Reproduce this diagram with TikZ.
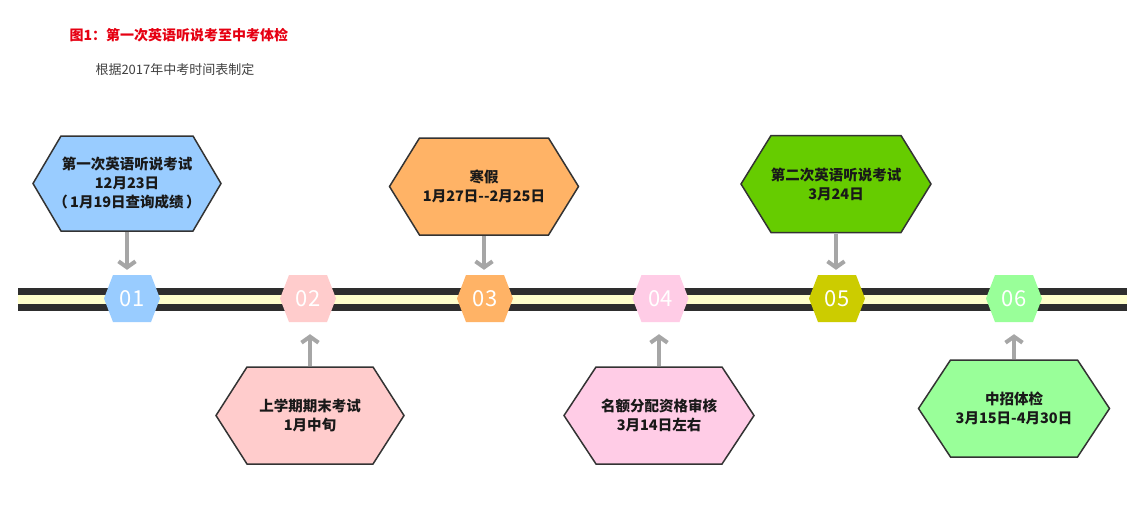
\documentclass[tikz,border=0pt]{standalone}
\usepackage{fontspec}
\setmainfont{Noto Sans CJK SC}
\usetikzlibrary{arrows.meta,calc}
\definecolor{titlered}{HTML}{E60012}
\definecolor{subgray}{HTML}{404040}
\definecolor{banddark}{HTML}{2E2E2E}
\definecolor{bandcream}{HTML}{FFFFCC}
\definecolor{outline}{HTML}{333333}
\definecolor{arrowgray}{HTML}{A6A6A6}
\definecolor{cA}{HTML}{99CCFF}
\definecolor{cB}{HTML}{FFCCCC}
\definecolor{cC}{HTML}{FFB366}
\definecolor{cD}{HTML}{FFCCE6}
\definecolor{cE}{HTML}{66CC00}
\definecolor{cEs}{HTML}{CCCC00}
\definecolor{cF}{HTML}{99FF99}
% name, center, half width, half height, point depth, shape style, label style, text
\newcommand\hexnode[8]{%
  \path[#6] ($(#2)+(-#3,0)$) -- ($(#2)+(-#3+#5,-#4)$) -- ($(#2)+(#3-#5,-#4)$)
    -- ($(#2)+(#3,0)$) -- ($(#2)+(#3-#5,#4)$) -- ($(#2)+(-#3+#5,#4)$) -- cycle;
  \node[inner sep=0pt, minimum width=2*#3, minimum height=2*#4, #7] (#1) at (#2) {#8};
}
\begin{document}
\begin{tikzpicture}[x=1pt,y=-1pt,
  bigbox/.style={fill=#1, draw=outline, line width=1.5pt, line join=miter},
  smallhex/.style={fill=#1},
  biglabel/.style={align=center, text=black!90, font=\bfseries\fontsize{14.5}{19}\selectfont},
  numlabel/.style={text=white, font=\fontsize{22}{24}\selectfont},
  arr/.style={draw=arrowgray, line width=4pt, -{Straight Barb[length=6pt,width=17pt]}},
]
\useasboundingbox (0,0) rectangle (1147,504);
\fill[white] (0,0) rectangle (1147,504);

\node[anchor=west, text=titlered, font=\bfseries\fontsize{14}{16}\selectfont] (title) at (66,35) {图1：第一次英语听说考至中考体检};
\node[anchor=west, text=subgray, font=\fontsize{13}{16}\selectfont] (sub) at (92,70) {根据2017年中考时间表制定};

% timeline band
\fill[banddark] (18,288) rectangle (1127,311);
\fill[bandcream] (18,294.5) rectangle (1127,303.5);

% small hexagons
\hexnode{h1}{132,298.5}{28}{23.5}{9}{smallhex=cA}{numlabel}{01}
\hexnode{h2}{308,298.5}{28}{23.5}{9}{smallhex=cB}{numlabel}{02}
\hexnode{h3}{485,298.5}{28}{23.5}{9}{smallhex=cC}{numlabel}{03}
\hexnode{h4}{660.5,298.5}{28}{23.5}{9}{smallhex=cD}{numlabel}{04}
\hexnode{h5}{837,298.5}{28}{23.5}{9}{smallhex=cEs}{numlabel}{05}
\hexnode{h6}{1014,298.5}{28}{23.5}{9}{smallhex=cF}{numlabel}{06}

% big boxes
\hexnode{b1}{127,183.5}{94}{47.5}{28}{bigbox=cA}{biglabel}{第一次英语听说考试\\12月23日\\（\,1月19日查询成绩\,）}
\hexnode{b3}{484,186.5}{94.5}{48.5}{30}{bigbox=cC}{biglabel}{寒假\\1月27日-{}-2月25日}
\hexnode{b5}{836,184}{95}{48.5}{30}{bigbox=cE}{biglabel}{第二次英语听说考试\\3月24日}
\hexnode{b2}{310,415.5}{94}{48.5}{31}{bigbox=cB}{biglabel}{上学期期末考试\\1月中旬}
\hexnode{b4}{659,415.5}{95}{48.5}{32}{bigbox=cD}{biglabel}{名额分配资格审核\\3月14日左右}
\hexnode{b6}{1014,408.5}{95.5}{48.5}{32}{bigbox=cF}{biglabel}{中招体检\\3月15日-4月30日}

% arrows
\draw[arr, shorten <=1pt, shorten >=5pt] (b1.south) -- (b1.south |- h1.north);
\draw[arr, shorten <=1pt, shorten >=5pt] (b3.south) -- (b3.south |- h3.north);
\draw[arr, shorten <=1pt, shorten >=5pt] (b5.south) -- (b5.south |- h5.north);
\draw[arr, shorten <=1pt, shorten >=12pt] (b2.north) -- (b2.north |- h2.south);
\draw[arr, shorten <=1pt, shorten >=12pt] (b4.north) -- (b4.north |- h4.south);
\draw[arr, shorten <=1pt, shorten >=12pt] (b6.north) -- (b6.north |- h6.south);
\end{tikzpicture}
\end{document}
